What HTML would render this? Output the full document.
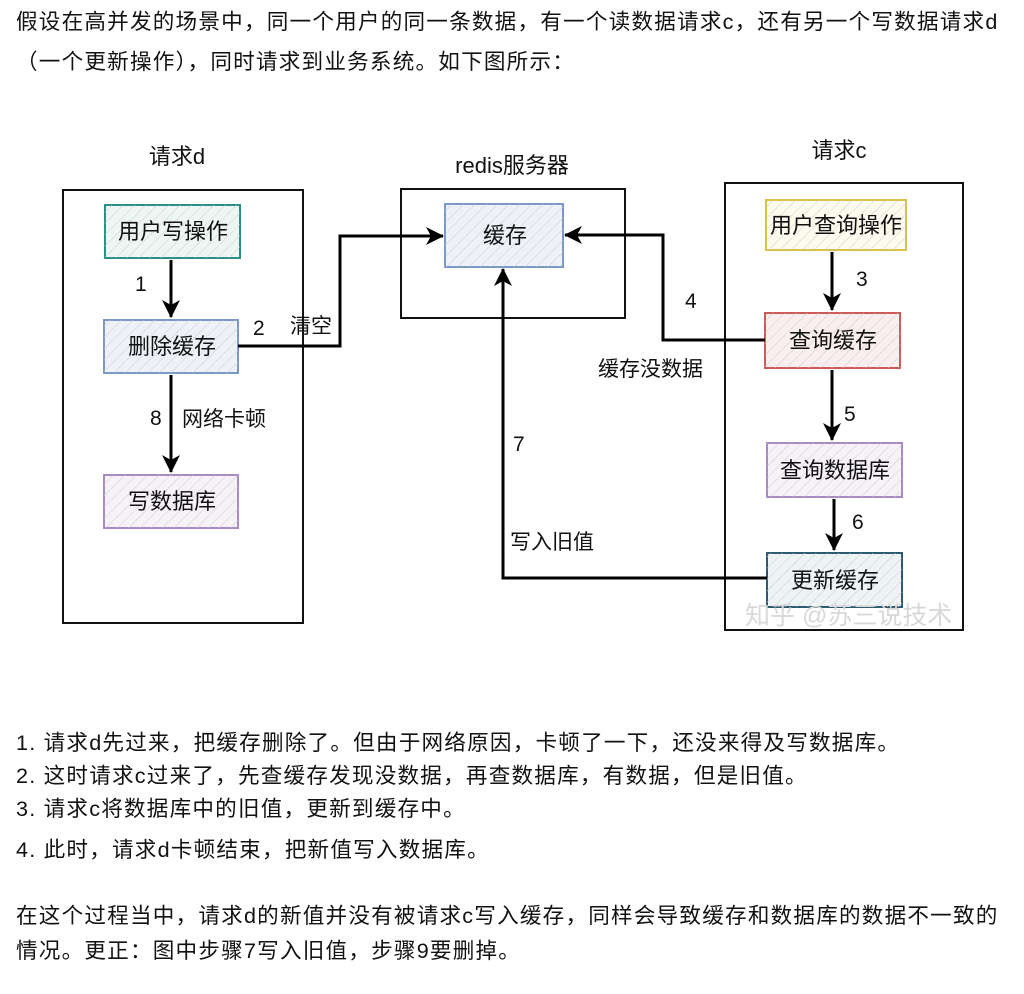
<!DOCTYPE html>
<html><head><meta charset="utf-8"><style>
body{margin:0;background:#fff;width:1024px;height:994px;overflow:hidden;font-family:"Liberation Sans","Noto Sans CJK SC",sans-serif;color:#121212;position:relative}
.t{position:absolute;left:16px;font-size:21.6px;letter-spacing:1.2px;white-space:nowrap;line-height:26px}
svg{position:absolute;left:0;top:0}
svg text{font-family:"Liberation Sans","Noto Sans CJK SC",sans-serif;fill:#111}
</style></head><body>
<div class="t" style="top:9px">假设在高并发的场景中，同一个用户的同一条数据，有一个读数据请求c，还有另一个写数据请求d</div>
<div class="t" style="top:49px">（一个更新操作），同时请求到业务系统。如下图所示：</div>
<svg width="1024" height="994" viewBox="0 0 1024 994">
<defs>
<pattern id="h" width="8" height="8" patternUnits="userSpaceOnUse" patternTransform="rotate(45)"><line x1="0" y1="0" x2="0" y2="8" stroke="#ccc" stroke-width="1"/></pattern>
<marker id="a" markerWidth="20" markerHeight="18" refX="17" refY="9" orient="auto" markerUnits="userSpaceOnUse"><path d="M0,0 L18,9 L0,18 L5,9z" fill="#000"/></marker>
</defs>
<g fill="none" stroke="#111" stroke-width="2">
<rect x="63" y="190" width="240" height="433"/>
<rect x="401" y="189" width="224" height="129"/>
<rect x="725" y="183" width="238" height="447"/>
</g>
<g stroke-width="2">
<rect x="105" y="205" width="135" height="53" fill="#eef6f4" stroke="#2a8f86"/><rect x="105" y="205" width="135" height="53" fill="url(#h)"/>
<rect x="104" y="320" width="134" height="53" fill="#eef2f8" stroke="#7b98c8"/><rect x="104" y="320" width="134" height="53" fill="url(#h)"/>
<rect x="104" y="475" width="134" height="53" fill="#f6f2f8" stroke="#a78cc4"/><rect x="104" y="475" width="134" height="53" fill="url(#h)"/>
<rect x="445" y="204" width="118" height="63" fill="#eef2f8" stroke="#7b98c8"/><rect x="445" y="204" width="118" height="63" fill="url(#h)"/>
<rect x="766" y="200" width="140" height="50" fill="#fdfbee" stroke="#d8c24a"/><rect x="766" y="200" width="140" height="50" fill="url(#h)"/>
<rect x="765" y="313" width="135" height="55" fill="#fbeeee" stroke="#cf5a5a"/><rect x="765" y="313" width="135" height="55" fill="url(#h)"/>
<rect x="767" y="443" width="135" height="54" fill="#f6f2f8" stroke="#a78cc4"/><rect x="767" y="443" width="135" height="54" fill="url(#h)"/>
<rect x="767" y="553" width="135" height="54" fill="#eef3f6" stroke="#2d5a6e"/><rect x="767" y="553" width="135" height="54" fill="url(#h)"/>
</g>
<g fill="none" stroke="#000" stroke-width="3" marker-end="url(#a)">
<path d="M171,260 V317"/>
<path d="M171,375 V472"/>
<path d="M238,346 H340 V236 H443"/>
<path d="M765,340 H663 V235 H565"/>
<path d="M832,252 V310"/>
<path d="M832,370 V440"/>
<path d="M834,499 V550"/>
<path d="M767,578 H503 V269"/>
</g>
<g font-size="22" text-anchor="middle">
<text x="173" y="239">用户写操作</text>
<text x="172" y="354">删除缓存</text>
<text x="172" y="509">写数据库</text>
<text x="505" y="243">缓存</text>
<text x="836" y="233">用户查询操作</text>
<text x="833" y="348">查询缓存</text>
<text x="835" y="478">查询数据库</text>
<text x="835" y="588">更新缓存</text>
<text x="177" y="164">请求d</text>
<text x="512" y="173">redis服务器</text>
<text x="839" y="158">请求c</text>
</g>
<g font-size="21">
<text x="135" y="291">1</text><text x="253" y="335">2</text><text x="290" y="333">清空</text>
<text x="150" y="425">8</text><text x="182" y="426">网络卡顿</text>
<text x="856" y="286">3</text><text x="685" y="308">4</text><text x="598" y="376">缓存没数据</text>
<text x="844" y="421">5</text><text x="852" y="529">6</text><text x="513" y="451">7</text><text x="510" y="549">写入旧值</text>
</g>
<text x="745" y="624" font-size="25" style="fill:#d8d8d8">知乎 @苏三说技术</text>
</svg>
<div class="t" style="top:730px">1. 请求d先过来，把缓存删除了。但由于网络原因，卡顿了一下，还没来得及写数据库。</div>
<div class="t" style="top:763px">2. 这时请求c过来了，先查缓存发现没数据，再查数据库，有数据，但是旧值。</div>
<div class="t" style="top:796px">3. 请求c将数据库中的旧值，更新到缓存中。</div>
<div class="t" style="top:837px">4. 此时，请求d卡顿结束，把新值写入数据库。</div>
<div class="t" style="top:903px">在这个过程当中，请求d的新值并没有被请求c写入缓存，同样会导致缓存和数据库的数据不一致的</div>
<div class="t" style="top:938px">情况。更正：图中步骤7写入旧值，步骤9要删掉。</div>
</body></html>
